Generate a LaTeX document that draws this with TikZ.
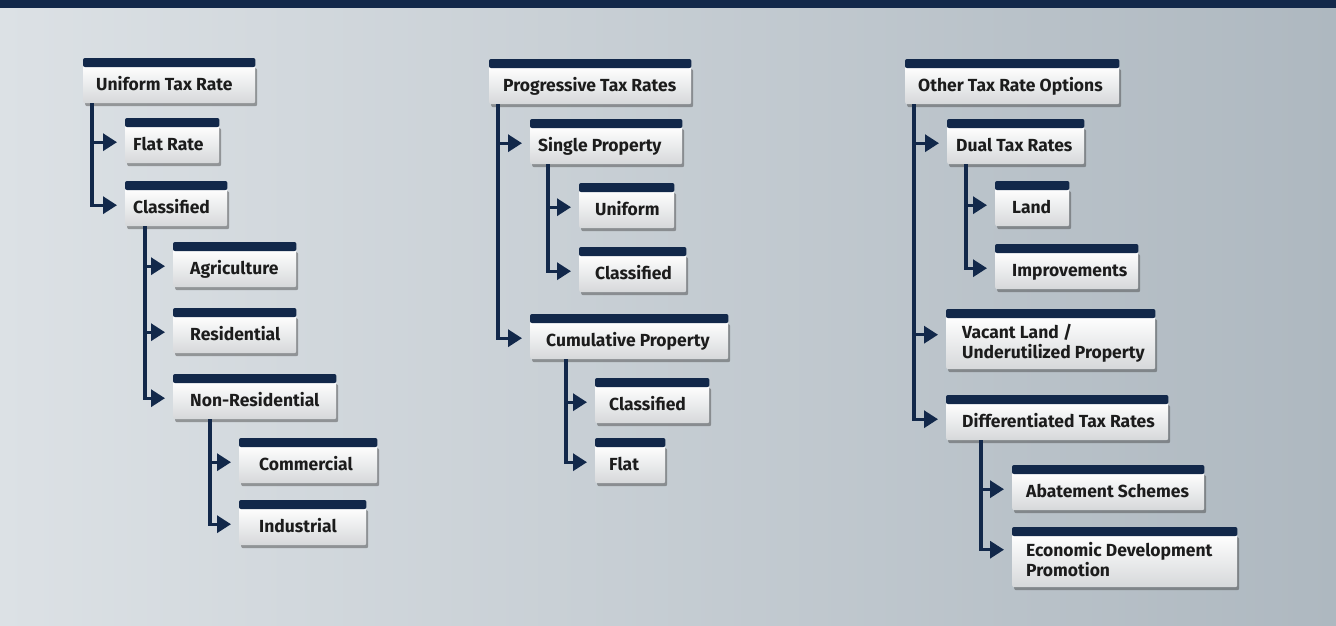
\documentclass[tikz,border=0pt]{standalone}
\usepackage{fontspec}
\setmainfont{Fira Sans}
\usetikzlibrary{arrows.meta,shadows,calc}
\definecolor{navy}{HTML}{12284A}
\definecolor{bgleft}{HTML}{DCE1E5}
\definecolor{bgright}{HTML}{AEB8C0}
\definecolor{boxbot}{HTML}{D6D8DA}
\definecolor{txt}{HTML}{1C1C1C}
\newcommand\taxbox[7]{%
  \node[tb, minimum height=#5pt] (#1) at (#2,{#3+7}) {\makebox[#4pt][l]{\hspace{#6pt}\raisebox{-2pt}[\height][\depth]{\begin{tabular}{@{}l@{}}#7\end{tabular}}}};
  \fill[navy, rounded corners=2pt] ([yshift=-2pt]#1.north west) rectangle ([yshift=7pt]#1.north east);
}
\begin{document}
\begin{tikzpicture}[x=1pt,y=-1pt,
  tb/.style={anchor=north west, inner sep=0pt, rounded corners=2pt,
    top color=white, bottom color=boxbot, text=txt,
    font=\bfseries\fontsize{17.5}{20}\selectfont,
    drop shadow={shadow xshift=2pt, shadow yshift=-3pt, opacity=0.45, fill=black!75}},
  conn/.style={draw=navy, line width=3.2pt, line join=miter, shorten >=8pt,
    -{Triangle[length=14pt,width=17pt]}}]
\useasboundingbox (0,0) rectangle (1336,625);
\shade[left color=bgleft, right color=bgright] (0,0) rectangle (1336,625);
\fill[navy] (0,0) rectangle (1336,8);

% column 1
\taxbox{u}{83}{58}{172}{38}{13}{Uniform Tax Rate}
\taxbox{fr}{125}{118}{94}{38}{8}{Flat Rate}
\taxbox{cl}{125}{181}{102}{38}{8}{Classified}
\taxbox{ag}{173}{242}{123}{38}{17}{Agriculture}
\taxbox{re}{173}{308}{123}{38}{17}{Residential}
\taxbox{nr}{173}{374}{163}{38}{17}{Non-Residential}
\taxbox{co}{239}{438}{138}{38}{20}{Commercial}
\taxbox{ind}{239}{500}{127}{38}{20}{Industrial}

% column 2
\taxbox{pr}{489}{59}{202}{38}{14}{Progressive Tax Rates}
\taxbox{sp}{530}{119}{152}{38}{8}{Single Property}
\taxbox{un}{579}{183}{95}{38}{16}{Uniform}
\taxbox{clb}{579}{247}{107}{38}{16}{Classified}
\taxbox{cu}{530}{314}{198}{38}{16}{Cumulative Property}
\taxbox{clc}{595}{378}{114}{38}{14}{Classified}
\taxbox{fl}{595}{438}{70}{38}{14}{Flat}

% column 3
\taxbox{ot}{905}{59}{214}{38}{13}{Other Tax Rate Options}
\taxbox{du}{947}{119}{137}{38}{9}{Dual Tax Rates}
\taxbox{la}{995}{181}{74}{38}{17}{Land}
\taxbox{im}{995}{244}{143}{38}{17}{Improvements}
\taxbox{va}{946}{309}{209}{53}{16}{Vacant Land /\\Underutilized Property}
\taxbox{di}{946}{395}{222}{38}{16}{Differentiated Tax Rates}
\taxbox{ab}{1012}{465}{192}{38}{14}{Abatement Schemes}
\taxbox{ec}{1012}{527}{225}{53}{14}{Economic Development\\Promotion}

% connectors column 1
\draw[conn] ([xshift=9pt]u.south west) |- ([yshift=2pt]fr.west);
\draw[conn] ([xshift=9pt]u.south west) |- ([yshift=2pt]cl.west);
\draw[conn] ([xshift=20pt]cl.south west) |- ([yshift=2pt]ag.west);
\draw[conn] ([xshift=20pt]cl.south west) |- ([yshift=2pt]re.west);
\draw[conn] ([xshift=20pt]cl.south west) |- ([yshift=2pt]nr.west);
\draw[conn] ([xshift=37pt]nr.south west) |- ([yshift=2pt]co.west);
\draw[conn] ([xshift=37pt]nr.south west) |- ([yshift=2pt]ind.west);

% connectors column 2
\draw[conn] ([xshift=9pt]pr.south west) |- ([yshift=2pt]sp.west);
\draw[conn] ([xshift=9pt]pr.south west) |- ([yshift=2pt]cu.west);
\draw[conn] ([xshift=18pt]sp.south west) |- ([yshift=2pt]un.west);
\draw[conn] ([xshift=18pt]sp.south west) |- ([yshift=2pt]clb.west);
\draw[conn] ([xshift=36pt]cu.south west) |- ([yshift=2pt]clc.west);
\draw[conn] ([xshift=36pt]cu.south west) |- ([yshift=2pt]fl.west);

% connectors column 3
\draw[conn] ([xshift=9pt]ot.south west) |- ([yshift=2pt]du.west);
\draw[conn] ([xshift=9pt]ot.south west) |- ([yshift=8pt]va.west);
\draw[conn] ([xshift=9pt]ot.south west) |- ([yshift=2pt]di.west);
\draw[conn] ([xshift=19pt]du.south west) |- ([yshift=2pt]la.west);
\draw[conn] ([xshift=19pt]du.south west) |- ([yshift=2pt]im.west);
\draw[conn] ([xshift=35pt]di.south west) |- ([yshift=2pt]ab.west);
\draw[conn] ([xshift=35pt]di.south west) |- ([yshift=11pt]ec.west);
\end{tikzpicture}
\end{document}
